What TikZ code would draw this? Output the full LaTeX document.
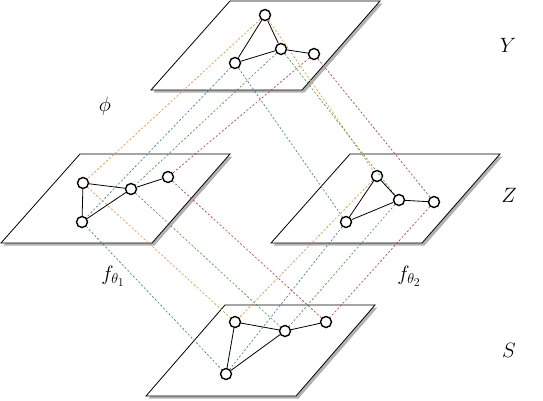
\documentclass[tikz,border=0pt]{standalone}
\usetikzlibrary{calc}
\definecolor{tabblue}{HTML}{1F77B4}
\definecolor{taborange}{HTML}{FF7F0E}
\definecolor{tabgreen}{HTML}{2CA02C}
\definecolor{tabred}{HTML}{D62728}
\begin{document}
\begin{tikzpicture}[x=1pt,y=-1pt,
  gnode/.style={circle,draw,line width=1.4pt,fill=white,inner sep=0pt,minimum size=11pt},
  gedge/.style={line width=0.8pt},
  plane/.style={draw,fill=white,line width=0.8pt},
  pshadow/.style={fill=black!30},
  link/.style={dash pattern=on 2pt off 2pt,line width=0.6pt},
  lab/.style={font=\huge}]
\useasboundingbox (0,0) rectangle (543,400);
% planes
\foreach \ax/\ay/\bx/\by/\cx/\cy/\dx/\dy in {151/90/302/90/380/1/230/1, 1/243/152/243/230/154/80/154, 271/243/422/243/500/154/350/154, 146/396/296/396/375/305/225/305}{
  \fill[pshadow] (\ax+2.5,\ay+2.5) -- (\bx+2.5,\by+2.5) -- (\cx+2.5,\cy+2.5) -- (\dx+2.5,\dy+2.5) -- cycle;
  \draw[plane] (\ax,\ay) -- (\bx,\by) -- (\cx,\cy) -- (\dx,\dy) -- cycle;
}
% graph nodes
\node[gnode] (ya) at (265,15) {};
\node[gnode] (yb) at (235,63) {};
\node[gnode] (yc) at (281,49) {};
\node[gnode] (yd) at (314,54) {};
\node[gnode] (aa) at (83,183) {};
\node[gnode] (ab) at (82,222) {};
\node[gnode] (ac) at (131,189) {};
\node[gnode] (ad) at (168,177) {};
\node[gnode] (ba) at (377,176) {};
\node[gnode] (bb) at (346,222) {};
\node[gnode] (bc) at (399,200) {};
\node[gnode] (bd) at (434,202) {};
\node[gnode] (sa) at (235,322) {};
\node[gnode] (sb) at (226,374) {};
\node[gnode] (sc) at (285,331) {};
\node[gnode] (sd) at (326,322) {};
% dashed correspondences
\foreach \u/\v in {y/a, y/b, a/s, b/s}{
  \draw[link,taborange] (\u a) -- (\v a);
  \draw[link,tabblue] (\u b) -- (\v b);
  \draw[link,tabgreen] (\u c) -- (\v c);
  \draw[link,tabred] (\u d) -- (\v d);
}
% graph edges
\foreach \g in {y,a,b,s}{
  \draw[gedge] (\g a) -- (\g b);
  \draw[gedge] (\g a) -- (\g c);
  \draw[gedge] (\g b) -- (\g c);
  \draw[gedge] (\g c) -- (\g d);
}
% labels
\node[lab] (lY) at (508,45) {$Y$};
\node[lab] (lZ) at (509,195) {$Z$};
\node[lab] (lS) at (509,350) {$S$};
\node[lab] (lphi) at (105,106) {$\phi$};
\node[lab] (lf1) at (113,276) {$f_{\theta_1}$};
\node[lab] (lf2) at (409,276) {$f_{\theta_2}$};
\end{tikzpicture}
\end{document}
